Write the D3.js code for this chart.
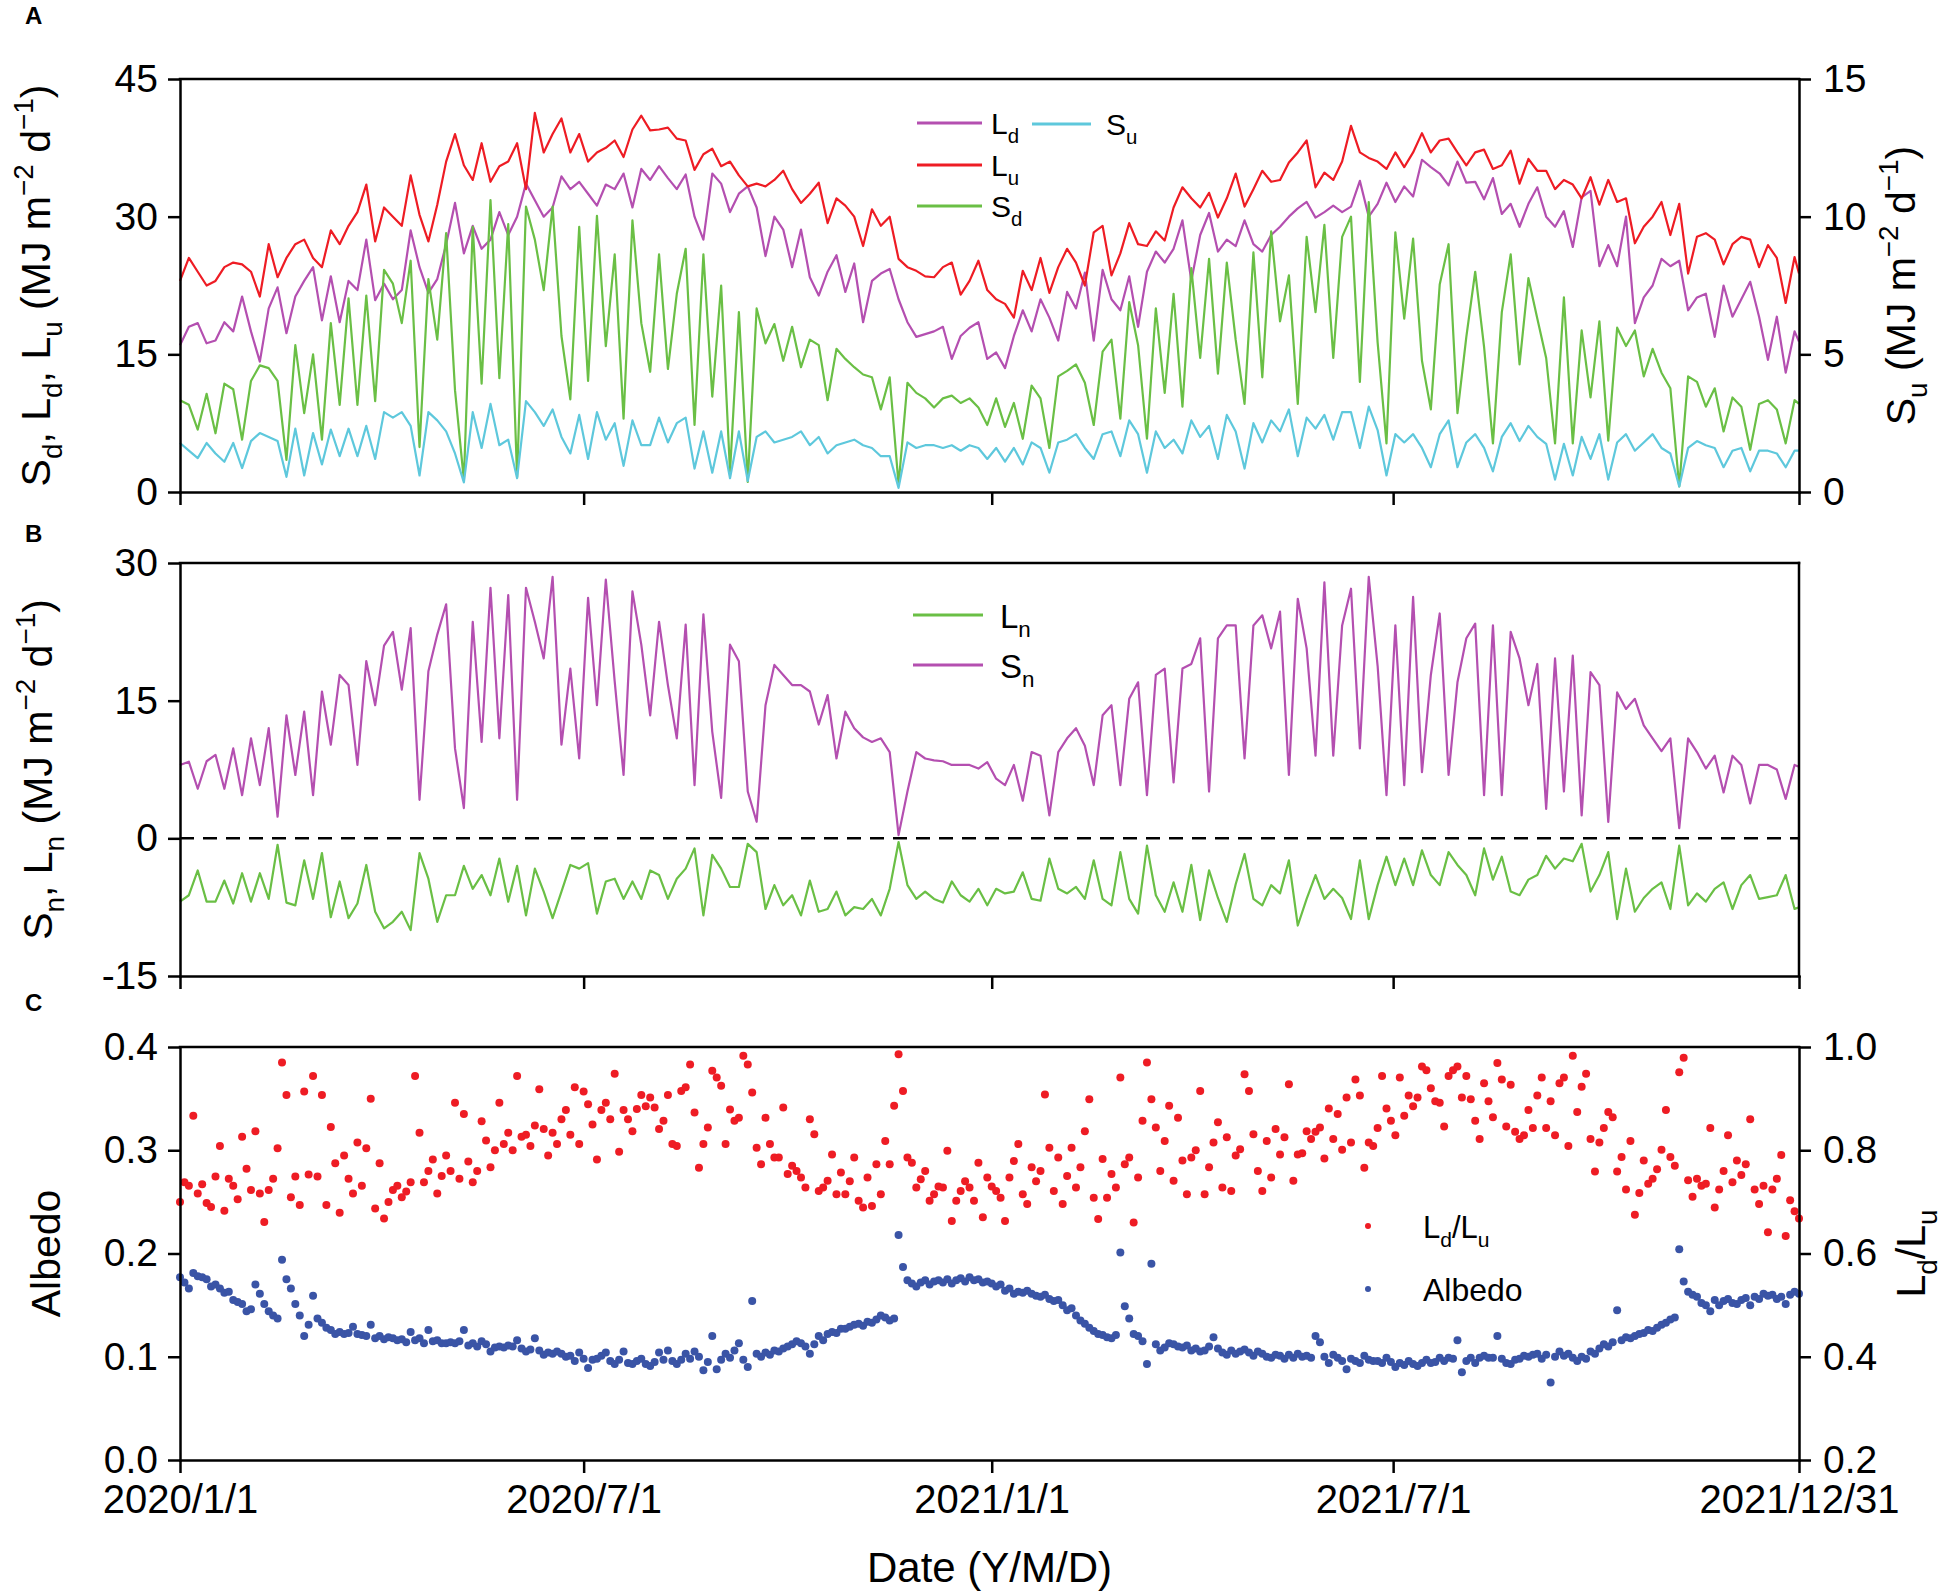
<!DOCTYPE html>
<html>
<head>
<meta charset="utf-8">
<script src="https://cdn.jsdelivr.net/npm/d3@7"></script>
<style>
  html, body { margin: 0; padding: 0; background: #fff; }
  svg { display: block; }
  text { white-space: pre; }
</style>
</head>
<body>
<svg id="chart"></svg>
<script>
// ---- values ----
const tickDates = ["2020-01-01", "2020-07-01", "2021-01-01", "2021-07-01", "2021-12-31"];
const tickLabels = ["2020/1/1", "2020/7/1", "2021/1/1", "2021/7/1", "2021/12/31"];

// daily radiation lines, one value every 4 days (last value = 2021/12/31), MJ m-2 d-1
const lineStep = 4;
const Lu = [
  23, 25.5, 24, 22.5, 23, 24.5, 25, 24.8, 24, 21.3,
  27, 23.4, 25.5, 27, 27.5, 25.5, 24.5, 28.5, 27, 29,
  30.5, 33.5, 27.3, 31, 30, 29, 34.5, 30.2, 27.3, 31.3,
  36, 39, 35.6, 34, 38, 33.8, 35.5, 36, 38, 33,
  41.3, 37, 39, 40.7, 37, 39, 36, 37, 37.5, 38.3,
  36.5, 39.5, 41, 39.4, 39.5, 39.7, 38.5, 38.3, 35.1, 36.8,
  37.4, 35.5, 36, 34.5, 33.3, 33.6, 33.3, 34, 35, 33,
  31.5, 32.5, 33.7, 29.3, 32, 31.2, 30, 26.8, 30.8, 29,
  30, 25.4, 24.5, 24.1, 23.5, 23.4, 24.5, 25, 21.5, 23,
  25.2, 22, 21, 20.5, 19, 24.1, 22, 25.5, 21.7, 24.5,
  26.5, 25, 22.5, 28.3, 29, 23.6, 26, 29.3, 27, 26.8,
  28.4, 27.4, 31, 33.2, 32, 31, 32.6, 29.9, 32, 34.7,
  31.1, 33, 35, 33.8, 34, 35.9, 37, 38.3, 33.2, 34.8,
  34, 36, 39.9, 37, 36.4, 36, 35.2, 37, 35.4, 37,
  39.1, 37, 38.3, 38.5, 37, 35.6, 37, 37.3, 35.2, 35.6,
  37.2, 33.6, 36.3, 35, 35, 33, 34, 33.5, 32, 34.3,
  31.3, 34, 31.6, 32, 27.1, 28.9, 30, 31.6, 28, 31.4,
  23.8, 27.8, 28.2, 27.5, 24.8, 27, 27.8, 27.5, 24.5, 26.9,
  25.5, 20.6, 25.6, 23.8
];
const Ld = [
  16, 18, 18.4, 16.2, 16.5, 18.5, 17.5, 21.3, 17.5, 14.2,
  20, 22.3, 17.3, 21.3, 23, 24.5, 18.7, 23.5, 18.5, 23,
  22, 27.5, 20.9, 22.7, 21, 22, 28.5, 24.5, 21.7, 23.2,
  27, 31.5, 26, 29, 26.5, 27.5, 30.5, 28, 30, 33.6,
  31.8, 30, 31, 34.4, 33, 33.8, 32.5, 31.2, 33.5, 33,
  34.7, 31, 35.2, 34, 35.5, 34.2, 33, 34.6, 30, 27.5,
  34.7, 33.6, 30.5, 32.5, 33.3, 31, 25.7, 30, 28.6, 24.5,
  28.6, 23.4, 21.4, 24, 25.8, 21.8, 24.9, 18.5, 23, 23.8,
  24.3, 21, 18.5, 16.9, 17.2, 17.5, 18, 14.5, 17, 17.9,
  18.5, 14.5, 15.2, 13.5, 17, 19.8, 17.5, 21, 19, 16.5,
  21.8, 20, 23.9, 16.5, 24.2, 21, 19.8, 23.5, 18, 24,
  26.2, 25, 26.5, 29.6, 23, 28, 30.4, 26.2, 27.5, 26.8,
  29.6, 27, 26.2, 28, 28.9, 30, 30.9, 31.6, 29.9, 30.5,
  31.2, 30.5, 31.1, 33.9, 30, 31.4, 33.7, 31.6, 33.3, 32.2,
  36.2, 35.4, 34.7, 33.4, 36, 33.7, 33.8, 31.9, 34.2, 30.3,
  31.4, 28.9, 31.4, 33.2, 30, 28.9, 30.6, 26.7, 32.1, 32.8,
  24.6, 26.9, 24.6, 30, 18.4, 21.2, 22.5, 25.4, 24.6, 25.2,
  19.8, 21.2, 21.6, 16.9, 22.5, 19.1, 21, 22.9, 19.1, 14.4,
  19.1, 13, 17.5, 16.4
];
const Sd = [
  10, 9.5, 6.8, 10.7, 6.4, 11.8, 11.2, 5.7, 12.1, 13.8,
  13.5, 12.1, 3.5, 16, 8.6, 15, 5.7, 18.4, 9.5, 21.1,
  9.5, 21.4, 9.9, 24.2, 22.7, 18.4, 25.2, 4.9, 23.2, 16.6,
  28.2, 11.1, 1.3, 28.9, 11.8, 31.8, 12.4, 29.2, 1.6, 31.1,
  27.5, 22, 31.1, 17, 10.1, 28.9, 12.1, 30.1, 15.9, 25.9,
  8, 29.6, 18.4, 13.1, 25.9, 13.4, 21.6, 26.5, 7.3, 25.9,
  10.4, 22.5, 2.2, 19.6, 1.1, 20, 16.2, 18.3, 14.3, 18,
  13.6, 16.6, 16, 10, 15.6, 14.5, 13.6, 12.8, 12.5, 9,
  12.5, 0.8, 11.9, 10.8, 10.2, 9.2, 10.2, 10.5, 9.7, 10.2,
  9.2, 7.3, 10.2, 7.1, 9.7, 5.8, 11.6, 10.2, 4.8, 12.6,
  13.2, 13.9, 11.9, 7.3, 15.3, 16.6, 8, 20.7, 16, 5.8,
  20, 10.8, 21.6, 9.3, 24.4, 14.6, 25.4, 12.9, 25, 16.6,
  9.6, 26.1, 12.5, 28.4, 18.6, 23.6, 9.6, 27.8, 19.6, 29.1,
  14.6, 27.8, 30, 12, 31.6, 16.3, 5.3, 28.3, 18.9, 27.6,
  14.3, 9, 22.6, 27, 8.6, 16.9, 24, 15.8, 5.3, 19.6,
  25.9, 13.9, 23.3, 18.9, 14.6, 5.3, 21.2, 5.3, 17.6, 10.3,
  18.6, 5.6, 17.9, 15.9, 17.6, 12.6, 15.6, 13, 11.3, 0.6,
  12.6, 12, 9.3, 11.3, 6.6, 10.3, 9.3, 4.6, 9.6, 10,
  9, 5.3, 10, 9.6
];
const Su = [
  1.78, 1.5, 1.23, 1.78, 1.4, 1.1, 1.78, 0.87, 1.85, 2.14,
  2.0, 1.85, 0.55, 2.3, 0.6, 2.14, 1.0, 2.27, 1.3, 2.3,
  1.3, 2.4, 1.2, 2.9, 2.7, 2.9, 2.4, 0.6, 2.9, 2.6,
  2.2, 1.4, 0.35, 2.9, 1.6, 3.2, 1.7, 1.9, 0.5, 3.3,
  2.9, 2.4, 3.0, 2.0, 1.4, 2.8, 1.2, 2.9, 1.9, 2.5,
  0.95, 2.6, 1.7, 1.7, 2.7, 1.8, 2.5, 2.7, 0.85, 2.2,
  0.7, 2.2, 0.5, 2.2, 0.4, 2.0, 2.2, 1.8, 1.9, 2.0,
  2.2, 1.7, 2.0, 1.4, 1.7, 1.8, 1.9, 1.7, 1.6, 1.3,
  1.3, 0.15, 1.8, 1.6, 1.7, 1.7, 1.6, 1.7, 1.5, 1.7,
  1.6, 1.2, 1.6, 1.1, 1.6, 1.0, 1.8, 1.6, 0.7, 1.8,
  1.9, 2.1, 1.6, 1.2, 2.1, 2.2, 1.3, 2.6, 2.1, 0.7,
  2.2, 1.6, 1.9, 1.4, 2.6, 2.0, 2.4, 1.2, 2.8, 2.2,
  0.85, 2.5, 1.8, 2.6, 2.2, 3.0, 1.3, 2.7, 2.3, 2.8,
  1.9, 2.9, 2.9, 1.6, 3.1, 2.25, 0.6, 2.1, 1.8, 2.1,
  1.6, 0.9, 2.1, 2.6, 0.9, 1.8, 2.1, 1.6, 0.75, 2.0,
  2.5, 1.85, 2.4, 2.0, 1.75, 0.45, 1.75, 0.6, 2.0, 1.2,
  2.1, 0.45, 1.8, 2.1, 1.5, 1.8, 2.1, 1.6, 1.4, 0.2,
  1.6, 1.85, 1.7, 1.6, 0.9, 1.5, 1.6, 0.75, 1.5, 1.5,
  1.4, 0.9, 1.5, 1.5
];
const Sn = [
  8.0, 8.35, 5.4, 8.4, 9.1, 5.4, 9.8, 4.7, 10.9, 5.8,
  12, 2.35, 13.4, 6.9, 13.8, 4.7, 16, 10.2, 17.8, 16.7,
  8, 19.3, 14.5, 21, 22.5, 16.2, 22.9, 4.2, 18.2, 22.2,
  25.5, 9.8, 3.3, 23.6, 10.5, 27.3, 10.9, 26.5, 4.2, 27.3,
  23.6, 19.6, 28.5, 10.2, 18.5, 8.7, 26.2, 14.5, 28.2, 17.1,
  6.9, 26.9, 21.1, 13.4, 23.6, 16.7, 10.9, 23.3, 5.8, 24.4,
  11.6, 4.4, 21.1, 19.3, 5.1, 1.8, 14.5, 18.9, 17.8, 16.7,
  16.7, 16, 12.4, 15.6, 8.7, 13.8, 12, 11, 10.5, 10.9,
  9.4, 0.35, 5.1, 9.4, 8.7, 8.5, 8.4, 8, 8, 8,
  7.6, 8.3, 6.5, 5.8, 8, 4.1, 9.4, 9, 2.5, 9.4,
  10.9, 12, 10.1, 5.8, 13.4, 14.5, 5.8, 15.2, 17, 4.7,
  17.8, 18.5, 6.1, 18.5, 19, 21.8, 5.1, 21.8, 23.2, 23.2,
  8.7, 23.2, 24.3, 20.7, 24.7, 6.9, 26.1, 20.7, 9, 27.9,
  9, 23.2, 27.2, 9.8, 28.5, 18.8, 4.7, 23.2, 5.8, 26.3,
  7.2, 17.8, 24.5, 6.9, 17, 21.8, 23.4, 4.7, 23.2, 4.7,
  22.5, 19.6, 14.5, 19, 3.2, 19.6, 5.1, 19.9, 2.5, 18.1,
  16.7, 1.8, 15.9, 14.1, 15.2, 12.3, 10.9, 9.5, 10.9, 1.1,
  10.9, 9.4, 7.6, 9, 5, 9, 8, 3.8, 8, 8,
  7.5, 4.3, 8, 7.8
];
const Ln = [
  -6.9, -6.2, -3.5, -6.9, -6.9, -4.6, -7.1, -3.8, -6.9, -3.8,
  -6.6, -0.7, -7, -7.3, -2.4, -6.6, -1.6, -8.6, -4.7, -8.7,
  -7.1, -2.9, -8, -9.8, -9.1, -8, -10, -1.6, -4.4, -9.1,
  -6.2, -6.2, -3.0, -5.5, -4, -6.2, -2.2, -6.9, -3.0, -8.4,
  -3.3, -5.8, -8.7, -5.8, -2.9, -3.3, -2.7, -8.2, -4.7, -4.4,
  -6.6, -4.7, -6.6, -3.5, -4, -6.6, -4.4, -3.3, -1.1, -8.4,
  -1.8, -3.3, -5.3, -5.3, -0.6, -1.5, -7.7, -5.1, -7.3, -6.2,
  -8.4, -4.6, -8, -7.7, -5.8, -8.4, -7.5, -7.7, -6.6, -8.4,
  -5.5, -0.4, -5.1, -6.6, -5.8, -6.6, -7, -4.7, -6.2, -6.9,
  -5.5, -7.3, -5.5, -6, -5.8, -3.7, -6.6, -6.8, -2.2, -5.5,
  -6, -5.3, -6.6, -2.4, -6.6, -7.3, -1.5, -6.6, -8.2, -0.8,
  -6.2, -8, -4.8, -8, -2.9, -8.9, -3.5, -6.5, -9.1, -5,
  -1.7, -6.6, -7.3, -5.1, -6, -2.4, -9.5, -6.6, -4, -6.6,
  -5.5, -6.5, -8.8, -2.4, -8.8, -5.1, -2, -5.1, -2.2, -5.1,
  -1.3, -4, -5.1, -1.5, -2.9, -4, -6.2, -1.1, -4.5, -2,
  -5.8, -6.2, -4.5, -4, -1.9, -3.3, -2.2, -2.5, -0.6, -5.8,
  -4, -1.5, -8.8, -3.3, -8, -6.5, -5.5, -4.8, -7.7, -0.8,
  -7.3, -6, -6.9, -5.5, -4.8, -7.7, -5.1, -4, -6.6, -6.4,
  -6.2, -4, -7.7, -7.5
];

// dots, one value every 2 days (last value = 2021/12/31)
const dotStep = 2;
const ratio = [
  0.700,0.738,0.731,0.867,0.716,0.734,0.698,0.690,0.749,0.808,0.683,0.745,0.731,0.705,0.826,
  0.764,0.723,0.837,0.716,0.661,0.723,0.745,0.804,0.970,0.907,0.709,0.749,0.694,0.914,0.753,
  0.944,0.749,0.907,0.694,0.845,0.775,0.679,0.790,0.745,0.716,0.815,0.731,0.804,0.900,0.687,
  0.775,0.668,0.700,0.723,0.731,0.709,0.720,0.738,0.944,0.834,0.738,0.760,0.782,0.716,0.750,
  0.790,0.760,0.892,0.745,0.870,0.778,0.738,0.760,0.856,0.819,0.767,0.800,0.892,0.812,0.834,
  0.800,0.944,0.826,0.830,0.808,0.848,0.918,0.841,0.790,0.834,0.812,0.860,0.878,0.830,0.922,
  0.812,0.914,0.889,0.850,0.782,0.878,0.892,0.860,0.948,0.797,0.878,0.860,0.837,0.880,0.907,
  0.885,0.902,0.883,0.841,0.857,0.907,0.812,0.808,0.915,0.922,0.966,0.873,0.766,0.812,0.844,
  0.954,0.941,0.925,0.812,0.879,0.857,0.863,0.983,0.966,0.912,0.805,0.773,0.863,0.812,0.786,
  0.786,0.883,0.754,0.770,0.760,0.747,0.728,0.860,0.831,0.721,0.728,0.741,0.792,0.715,0.757,
  0.715,0.740,0.786,0.702,0.689,0.747,0.692,0.773,0.715,0.818,0.773,0.886,0.986,0.915,0.786,
  0.776,0.728,0.744,0.760,0.702,0.715,0.730,0.728,0.799,0.663,0.702,0.721,0.740,0.728,0.702,
  0.776,0.670,0.747,0.730,0.721,0.708,0.663,0.747,0.779,0.812,0.715,0.696,0.767,0.740,0.760,
  0.908,0.805,0.721,0.786,0.696,0.750,0.805,0.728,0.767,0.837,0.899,0.708,0.667,0.783,0.708,
  0.754,0.728,0.941,0.773,0.786,0.660,0.747,0.857,0.970,0.899,0.844,0.760,0.818,0.886,0.741,
  0.863,0.780,0.715,0.786,0.800,0.915,0.715,0.767,0.815,0.854,0.728,0.825,0.721,0.790,0.802,
  0.947,0.915,0.831,0.760,0.721,0.818,0.747,0.841,0.792,0.825,0.928,0.741,0.792,0.794,0.837,
  0.822,0.836,0.844,0.784,0.881,0.822,0.870,0.801,0.902,0.815,0.937,0.906,0.766,0.815,0.808,
  0.843,0.944,0.881,0.857,0.829,0.941,0.867,0.906,0.885,0.902,0.962,0.955,0.920,0.895,0.892,
  0.846,0.944,0.955,0.962,0.902,0.944,0.899,0.857,0.822,0.930,0.895,0.864,0.969,0.937,0.846,
  0.927,0.836,0.822,0.829,0.878,0.843,0.906,0.941,0.843,0.895,0.829,0.930,0.941,0.808,0.983,
  0.874,0.923,0.948,0.822,0.759,0.815,0.843,0.874,0.864,0.759,0.787,0.724,0.818,0.675,0.717,
  0.780,0.735,0.745,0.763,0.801,0.878,0.787,0.770,0.951,0.979,0.742,0.710,0.745,0.731,0.735,
  0.843,0.689,0.724,0.760,0.829,0.738,0.780,0.752,0.773,0.860,0.724,0.696,0.731,0.641,0.724,
  0.745,0.791,0.634,0.703,0.682,0.668
];
const albedo = [
  0.177,0.172,0.166,0.181,0.178,0.177,0.175,0.168,0.170,0.166,0.162,0.163,0.155,0.153,0.151,
  0.144,0.146,0.170,0.161,0.151,0.144,0.140,0.137,0.194,0.175,0.166,0.151,0.140,0.120,0.131,
  0.159,0.137,0.133,0.128,0.126,0.122,0.124,0.122,0.123,0.129,0.122,0.121,0.120,0.131,0.118,
  0.120,0.117,0.119,0.118,0.116,0.117,0.114,0.124,0.116,0.118,0.113,0.126,0.115,0.116,0.113,
  0.113,0.114,0.113,0.115,0.126,0.111,0.113,0.110,0.115,0.112,0.105,0.109,0.110,0.109,0.111,
  0.110,0.116,0.108,0.105,0.107,0.118,0.106,0.102,0.104,0.103,0.105,0.103,0.100,0.101,0.096,
  0.104,0.098,0.089,0.097,0.098,0.101,0.104,0.096,0.093,0.097,0.105,0.094,0.093,0.096,0.098,
  0.093,0.091,0.095,0.104,0.097,0.106,0.096,0.093,0.097,0.103,0.098,0.105,0.100,0.087,0.095,
  0.120,0.088,0.097,0.103,0.099,0.106,0.113,0.097,0.090,0.154,0.103,0.100,0.104,0.102,0.106,
  0.105,0.108,0.110,0.112,0.115,0.113,0.110,0.103,0.112,0.120,0.116,0.122,0.124,0.123,0.127,
  0.127,0.129,0.131,0.132,0.130,0.134,0.133,0.136,0.140,0.138,0.135,0.137,0.218,0.187,0.174,
  0.171,0.168,0.172,0.174,0.170,0.173,0.174,0.172,0.175,0.171,0.174,0.176,0.173,0.177,0.174,
  0.175,0.172,0.173,0.171,0.168,0.170,0.164,0.166,0.161,0.163,0.162,0.164,0.161,0.159,0.158,
  0.160,0.156,0.154,0.155,0.150,0.145,0.147,0.140,0.135,0.132,0.128,0.125,0.122,0.121,0.119,
  0.118,0.121,0.201,0.149,0.137,0.122,0.120,0.115,0.093,0.190,0.112,0.106,0.109,0.113,0.112,
  0.110,0.109,0.111,0.106,0.108,0.105,0.106,0.110,0.119,0.108,0.104,0.102,0.106,0.103,0.105,
  0.107,0.104,0.101,0.105,0.103,0.100,0.099,0.102,0.101,0.098,0.102,0.099,0.103,0.100,0.101,
  0.099,0.120,0.114,0.100,0.094,0.102,0.099,0.096,0.088,0.098,0.096,0.094,0.101,0.097,0.096,
  0.096,0.094,0.099,0.095,0.090,0.094,0.092,0.096,0.093,0.091,0.094,0.097,0.094,0.095,0.099,
  0.096,0.099,0.098,0.116,0.085,0.096,0.099,0.094,0.099,0.101,0.099,0.099,0.120,0.098,0.094,
  0.093,0.097,0.098,0.101,0.100,0.102,0.103,0.098,0.102,0.075,0.100,0.105,0.101,0.103,0.099,
  0.096,0.100,0.098,0.105,0.103,0.108,0.112,0.110,0.114,0.145,0.116,0.119,0.118,0.120,0.122,
  0.123,0.126,0.125,0.128,0.131,0.133,0.136,0.138,0.204,0.173,0.163,0.160,0.158,0.152,0.150,
  0.144,0.155,0.150,0.154,0.156,0.152,0.151,0.155,0.157,0.150,0.158,0.156,0.161,0.159,0.160,
  0.156,0.158,0.151,0.160,0.163,0.161
];

// ---- layout ----
const W = 1949, H = 1595;
const FONT = "'Liberation Sans', Arial, Helvetica, sans-serif";
const left = 180, right = 1799, panelH = 413;
const tops = [79, 563, 1047];
const AXW = 2.5;
const colors = {
  Ld: "#b44fb0", Lu: "#ee1c24", Sd: "#6abf45", Su: "#5ec8dc",
  Sn: "#b44fb0", Ln: "#6abf45", ratio: "#ee1c24", albedo: "#3a54a6"
};

const svg = d3.select("#chart").attr("width", W).attr("height", H)
  .style("font-family", FONT);
svg.append("rect").attr("width", W).attr("height", H).attr("fill", "#fff");

const t0 = d3.utcParse("%Y-%m-%d")(tickDates[0]);
const tEnd = d3.utcParse("%Y-%m-%d")(tickDates[tickDates.length - 1]);
const lastDay = d3.utcDay.count(t0, tEnd);
const x = d3.scaleUtc().domain([t0, tEnd]).range([left, right]);
const ticks = tickDates.map(d3.utcParse("%Y-%m-%d"));

function series(values, step) {
  return values.map((v, i) => ({ date: d3.utcDay.offset(t0, Math.min(i * step, lastDay)), v }));
}

// text with sub/superscripts: parts = [[string, "n"|"sub"|"sup"], ...]
function rich(textSel, parts, size) {
  let shift = 0;
  parts.forEach(([s, kind]) => {
    const target = kind === "sub" ? size * 0.3 : kind === "sup" ? -size * 0.42 : 0;
    textSel.append("tspan")
      .attr("dy", target - shift)
      .attr("font-size", kind === "n" ? size : size * 0.68)
      .text(s);
    shift = target;
  });
}

function styleAxis(g, size) {
  g.attr("font-family", FONT).attr("font-size", size);
  g.selectAll(".domain").attr("stroke-width", AXW).attr("stroke-linecap", "square");
  g.selectAll(".tick line").attr("stroke-width", AXW);
  g.selectAll(".tick text").attr("fill", "#000");
}

// plain hyphen for negatives, as in the figure
const fmtInt = d => String(d);
const fmt1 = d => d.toFixed(1);

function frame(top, y, yRight, leftTicks, rightTicks, fmtL, fmtR, xLabels) {
  const bottom = top + panelH;
  svg.append("line").attr("x1", left).attr("x2", right).attr("y1", top).attr("y2", top)
    .attr("stroke", "#000").attr("stroke-width", AXW).attr("stroke-linecap", "square");
  const gl = svg.append("g").attr("transform", `translate(${left},0)`)
    .call(d3.axisLeft(y).tickValues(leftTicks).tickFormat(fmtL).tickSize(12).tickPadding(10).tickSizeOuter(0));
  styleAxis(gl, 39);
  if (yRight) {
    const gr = svg.append("g").attr("transform", `translate(${right},0)`)
      .call(d3.axisRight(yRight).tickValues(rightTicks).tickFormat(fmtR).tickSize(12).tickPadding(12).tickSizeOuter(0));
    styleAxis(gr, 39);
  } else {
    svg.append("line").attr("x1", right).attr("x2", right).attr("y1", top).attr("y2", bottom)
      .attr("stroke", "#000").attr("stroke-width", AXW).attr("stroke-linecap", "square");
  }
  const gb = svg.append("g").attr("transform", `translate(0,${bottom})`)
    .call(d3.axisBottom(x).tickValues(ticks)
      .tickFormat((d, i) => xLabels ? xLabels[i] : "")
      .tickSize(13).tickPadding(12).tickSizeOuter(0));
  styleAxis(gb, 40);
}

function drawLine(values, step, y, color) {
  const line = d3.line().x(d => x(d.date)).y(d => y(d.v));
  svg.append("path").datum(series(values, step))
    .attr("d", line).attr("fill", "none").attr("stroke", color)
    .attr("stroke-width", 2.2).attr("stroke-linejoin", "round");
}

function yTitle(cx, cy, parts, size) {
  const t = svg.append("text").attr("transform", `translate(${cx},${cy}) rotate(-90)`)
    .attr("text-anchor", "middle").attr("fill", "#000");
  rich(t, parts, size);
}

function legendLine(x1, x2, y, textX, color, label, sub, size) {
  svg.append("line").attr("x1", x1).attr("x2", x2).attr("y1", y).attr("y2", y)
    .attr("stroke", color).attr("stroke-width", 3);
  const t = svg.append("text").attr("x", textX).attr("y", y + size * 0.38).attr("fill", "#000");
  rich(t, [[label, "n"], [sub, "sub"]], size);
}

const unitParts = [[" (MJ m", "n"], ["\u22122", "sup"], [" d", "n"], ["\u22121", "sup"], [")", "n"]];

// ---- panel A ----
const yA = d3.scaleLinear().domain([0, 45]).range([tops[0] + panelH, tops[0]]);
const yAR = d3.scaleLinear().domain([0, 15]).range([tops[0] + panelH, tops[0]]);
drawLine(Ld, lineStep, yA, colors.Ld);
drawLine(Lu, lineStep, yA, colors.Lu);
drawLine(Sd, lineStep, yA, colors.Sd);
drawLine(Su, lineStep, yAR, colors.Su);
frame(tops[0], yA, yAR, [0, 15, 30, 45], [0, 5, 10, 15], fmtInt, fmtInt, null);
yTitle(50, tops[0] + panelH / 2,
  [["S", "n"], ["d", "sub"], [", L", "n"], ["d", "sub"], [", L", "n"], ["u", "sub"]].concat(unitParts), 41);
yTitle(1915, tops[0] + panelH / 2, [["S", "n"], ["u", "sub"]].concat(unitParts), 41);
legendLine(917, 982, 123, 991, colors.Ld, "L", "d", 30);
legendLine(1032, 1091, 124, 1106, colors.Su, "S", "u", 30);
legendLine(917, 982, 165, 991, colors.Lu, "L", "u", 30);
legendLine(917, 982, 206, 991, colors.Sd, "S", "d", 30);

// ---- panel B ----
const yB = d3.scaleLinear().domain([-15, 30]).range([tops[1] + panelH, tops[1]]);
drawLine(Sn, lineStep, yB, colors.Sn);
drawLine(Ln, lineStep, yB, colors.Ln);
svg.append("line").attr("x1", left).attr("x2", right).attr("y1", yB(0)).attr("y2", yB(0))
  .attr("stroke", "#000").attr("stroke-width", 2.5).attr("stroke-dasharray", "14,9");
frame(tops[1], yB, null, [-15, 0, 15, 30], null, fmtInt, null, null);
yTitle(52, tops[1] + panelH / 2,
  [["S", "n"], ["n", "sub"], [", L", "n"], ["n", "sub"]].concat(unitParts), 41);
legendLine(913, 983, 615, 1000, colors.Ln, "L", "n", 33);
legendLine(913, 983, 665, 1000, colors.Sn, "S", "n", 33);

// ---- panel C ----
const yC = d3.scaleLinear().domain([0, 0.4]).range([tops[2] + panelH, tops[2]]);
const yCR = d3.scaleLinear().domain([0.2, 1.0]).range([tops[2] + panelH, tops[2]]);
svg.append("g").selectAll("circle").data(series(ratio, dotStep)).join("circle")
  .attr("cx", d => x(d.date)).attr("cy", d => yCR(d.v)).attr("r", 4).attr("fill", colors.ratio);
svg.append("g").selectAll("circle").data(series(albedo, dotStep)).join("circle")
  .attr("cx", d => x(d.date)).attr("cy", d => yC(d.v)).attr("r", 4).attr("fill", colors.albedo);
frame(tops[2], yC, yCR, [0, 0.1, 0.2, 0.3, 0.4], [0.2, 0.4, 0.6, 0.8, 1.0], fmt1, fmt1, tickLabels);
yTitle(60, tops[2] + panelH / 2, [["Albedo", "n"]], 41);
yTitle(1925, tops[2] + panelH / 2, [["L", "n"], ["d", "sub"], ["/L", "n"], ["u", "sub"]], 41);

svg.append("circle").attr("cx", 1368).attr("cy", 1226).attr("r", 3).attr("fill", colors.ratio);
const lt1 = svg.append("text").attr("x", 1423).attr("y", 1238).attr("fill", "#000");
rich(lt1, [["L", "n"], ["d", "sub"], ["/L", "n"], ["u", "sub"]], 31);
svg.append("circle").attr("cx", 1368).attr("cy", 1289).attr("r", 3).attr("fill", colors.albedo);
svg.append("text").attr("x", 1423).attr("y", 1301).attr("font-size", 32).attr("fill", "#000").text("Albedo");

// ---- x title and panel letters ----
svg.append("text").attr("x", (left + right) / 2).attr("y", 1582).attr("text-anchor", "middle")
  .attr("font-size", 42).attr("fill", "#000").text("Date (Y/M/D)");
[["A", 24], ["B", 542], ["C", 1011]].forEach(([s, y]) => {
  svg.append("text").attr("x", 25).attr("y", y).attr("font-size", 24)
    .attr("font-weight", "bold").attr("fill", "#000").text(s);
});
</script>
</body>
</html>
